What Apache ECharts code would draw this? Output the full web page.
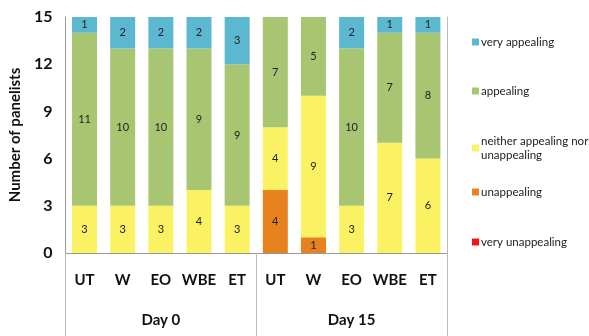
<!DOCTYPE html>
<html><head><meta charset="utf-8">
<script src="https://cdn.jsdelivr.net/npm/echarts@6/dist/echarts.min.js"></script>
<style>html,body{margin:0;padding:0;background:#fff}#c{width:589px;height:336px}</style>
</head><body><div id="c"></div>
<script>
const categories = ['UT','W','EO','WBE','ET','UT','W','EO','WBE','ET'];
const groups = ['Day 0','Day 15'];
const veryUnappealing = [0,0,0,0,0, 0,0,0,0,0];
const unappealing     = [0,0,0,0,0, 4,1,0,0,0];
const neither         = [3,3,3,4,3, 4,9,3,7,6];
const appealing       = [11,10,10,9,9, 7,5,10,7,8];
const veryAppealing   = [1,2,2,2,3, 0,0,2,1,1];
const yTicks = [0,3,6,9,12,15];

const FONT = 'Lato, "Open Sans", sans-serif';
const seriesDefs = [
  {name:'very unappealing', data:veryUnappealing, color:'#fe1010'},
  {name:'unappealing', data:unappealing, color:'#e8821e'},
  {name:'neither appealing nor\nunappealing', data:neither, color:'#faf263'},
  {name:'appealing', data:appealing, color:'#a8c672'},
  {name:'very appealing', data:veryAppealing, color:'#5bb8d0'}
];
const legendTops = [235, 185, 134, 84, 35];

const chart = echarts.init(document.getElementById('c'), null, {renderer:'canvas'});
chart.setOption({
  animation:false,
  backgroundColor:'#fff',
  grid:{left:64, right:142, top:17, bottom:83},
  legend: seriesDefs.map((s,i)=>({
    data:[s.name], orient:'vertical', left:472, top:legendTops[i], padding:0,
    itemWidth:7, itemHeight:7, itemGap:0, icon:'rect',
    textStyle:{fontFamily:FONT, fontSize:11.5, color:'#222', lineHeight:14, padding:[0,0,0,-3]},
    selectedMode:false
  })),
  xAxis:[
    {type:'category', data:categories, position:'bottom',
     axisLine:{show:true, lineStyle:{color:'#999', width:1}},
     axisTick:{show:false},
     axisLabel:{interval:0, margin:20, fontFamily:FONT, fontSize:15, fontWeight:'bold', color:'#111'}},
    {type:'category', data:groups, position:'bottom', offset:0,
     axisLine:{show:false},
     axisTick:{show:true, length:83, interval:0, lineStyle:{color:'#bbb', width:1}},
     axisLabel:{interval:0, margin:60, fontFamily:FONT, fontSize:15, fontWeight:'bold', color:'#111'}}
  ],
  yAxis:[
    {type:'value', min:0, max:15, interval:3,
     name:'Number of panelists', nameLocation:'middle', nameGap:40,
     nameTextStyle:{fontFamily:FONT, fontSize:15, fontWeight:'bold', color:'#111'},
     axisLine:{show:true, lineStyle:{color:'#999'}},
     axisTick:{show:false}, splitLine:{show:false},
     axisLabel:{fontFamily:FONT, fontSize:16, fontWeight:'bold', color:'#111', margin:13,
       formatter:v=>yTicks.includes(v)?String(v):''}},
    {type:'value', min:0, max:15, interval:3, position:'right',
     axisLine:{show:true, lineStyle:{color:'#bbb'}},
     axisTick:{show:false}, splitLine:{show:false}, axisLabel:{show:false}}
  ],
  series: seriesDefs.map(s=>({
    name:s.name, type:'bar', stack:'total', barWidth:25, xAxisIndex:0, yAxisIndex:0,
    data:s.data, itemStyle:{color:s.color},
    label:{show:true, position:'inside', fontFamily:FONT, fontSize:11, color:'#222',
      formatter:p=>p.value>0?String(p.value):''}
  }))
});
</script></body></html>
